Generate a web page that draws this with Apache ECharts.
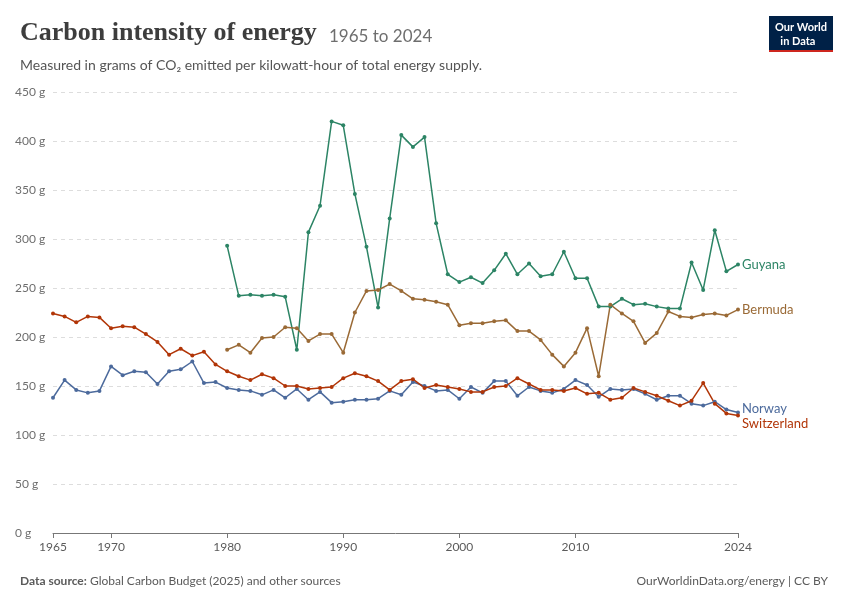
<!DOCTYPE html>
<html><head><meta charset="utf-8">
<script src="https://cdn.jsdelivr.net/npm/echarts@6/dist/echarts.min.js"></script>
<style>body{margin:0}#c{width:850px;height:600px}</style></head>
<body><div id="c"></div>
<script>
// data
const yearsAll = []; for (let y = 1965; y <= 2024; y++) yearsAll.push(y);
const years1980 = yearsAll.slice(15);
const switzerland = [224,221,215,221,220,209,211,210,203,195,182,188,181,185,172,165,160,156,162,158,150,150,147,148,149,158,163,160,155,146,155,157,148,151,149,147,144,144,149,150,158,152,146,146,145,148,142,143,136,138,148,144,140,135,130,135,153,132,122,120];
const norway = [138,156,146,143,145,170,161,165,164,152,165,167,175,153,154,148,146,145,141,146,138,147,136,144,133,134,136,136,137,145,141,154,150,145,146,137,149,143,155,155,140,149,145,143,147,156,151,139,147,146,147,142,136,140,140,132,130,134,126,123];
const guyana = [293,242,243,242,243,241,187,307,334,420,416,346,292,230,321,406,394,404,316,264,256,261,255,268,285,264,275,262,264,287,260,260,231,231,239,233,234,231,229,229,276,248,309,267,274];
const bermuda = [187,192,184,199,200,210,209,196,203,203,184,225,247,248,254,247,239,238,236,233,212,214,214,216,217,206,206,197,182,170,184,209,160,233,224,216,194,204,226,221,220,223,224,222,228];
const xTicks = [1965,1970,1980,1990,2000,2010,2024];

const font = 'Lato, "Noto Sans", sans-serif';
const mk = (name, xs, vals, color, offY) => ({
  name, type: 'line', data: xs.map((x, i) => [x, vals[i]]),
  symbol: 'circle', symbolSize: 4, color, lineStyle: {width: 1.5},
  endLabel: {show: true, formatter: name, color, fontFamily: font, fontSize: 13, distance: 4, offset: [0, offY]}
});
const chart = echarts.init(document.getElementById('c'));
chart.setOption({
  animation: false,
  grid: {left: 53, right: 112, top: 92, bottom: 67},
  title: [
    {text: 'Carbon intensity of energy', left: 15, top: 15, textStyle: {fontFamily: '"Liberation Serif", "DejaVu Serif", serif', fontSize: 26, fontWeight: 'bold', color: '#3d3d3d'}},
    {text: '1965 to 2024', left: 324, top: 23, textStyle: {fontFamily: font, fontSize: 17, fontWeight: 'normal', color: '#6e6e6e'}},
    {text: 'Measured in grams of CO₂ emitted per kilowatt-hour of total energy supply.', left: 15, top: 53, textStyle: {fontFamily: font, fontSize: 14, fontWeight: 'normal', color: '#555'}},
    {text: '{b|Data source:} Global Carbon Budget (2025) and other sources', left: 15, top: 570, textStyle: {fontFamily: font, fontSize: 12, fontWeight: 'normal', color: '#5b5b5b', rich: {b: {fontFamily: font, fontSize: 12, fontWeight: 'bold', color: '#5b5b5b'}}}},
    {text: 'OurWorldinData.org/energy | CC BY', right: 17, top: 570, textStyle: {fontFamily: font, fontSize: 12, fontWeight: 'normal', color: '#5b5b5b'}}
  ],
  graphic: [
    {type: 'rect', left: 769, top: 16, shape: {width: 64, height: 36}, style: {fill: '#002147'}},
    {type: 'rect', left: 769, top: 50, shape: {width: 64, height: 2}, style: {fill: '#ce261e'}},
    {type: 'text', left: 775, top: 20, style: {text: 'Our World\n  in Data', fill: '#fff', font: 'bold 11px ' + font, lineHeight: 14}}
  ],
  xAxis: {
    type: 'value', min: 1965, max: 2024,
    axisLine: {lineStyle: {color: '#777'}},
    axisTick: {show: true, customValues: xTicks, length: 5, lineStyle: {color: '#777'}},
    axisLabel: {customValues: xTicks, color: '#5b5b5b', fontFamily: font, fontSize: 12, formatter: v => String(v)},
    splitLine: {show: false}
  },
  yAxis: {
    type: 'value', min: 0, max: 450, interval: 50,
    axisLine: {show: false}, axisTick: {show: false},
    axisLabel: {color: '#6e6e6e', fontFamily: font, fontSize: 12, formatter: '{value} g', align: 'left', margin: 38},
    splitLine: {lineStyle: {color: '#ddd', type: [4, 4]}}
  },
  series: [
    mk('Guyana', years1980, guyana, '#2c8465', 0),
    mk('Bermuda', years1980, bermuda, '#9a6a36', 0),
    mk('Norway', yearsAll, norway, '#4c6a9c', -4),
    mk('Switzerland', yearsAll, switzerland, '#b13507', 8)
  ]
});
</script></body></html>
